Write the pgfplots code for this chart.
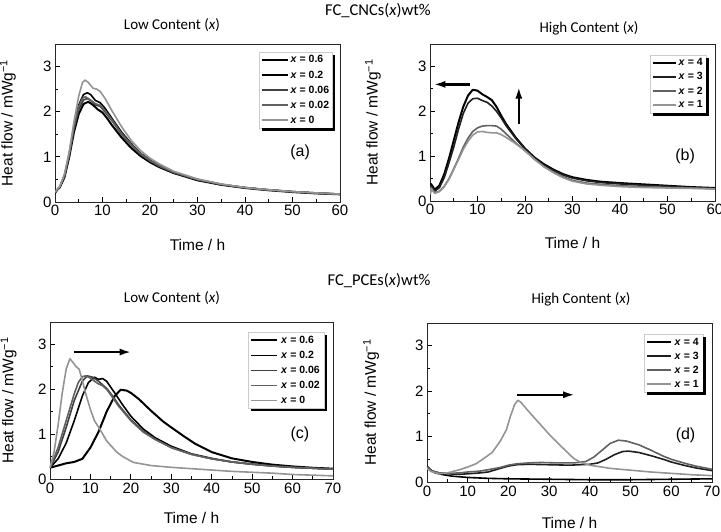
\documentclass[border=0pt]{standalone}
\usepackage{fontspec}
\setmainfont{Liberation Sans}
\newfontfamily\calfont{Carlito}
\usepackage{pgfplots}
\pgfplotsset{compat=1.18}
\usetikzlibrary{arrows.meta}
\definecolor{g0}{gray}{0.0}
\definecolor{g1}{gray}{0.12}
\definecolor{g2}{gray}{0.25}
\definecolor{g3}{gray}{0.38}
\definecolor{g4}{gray}{0.58}
\newcommand\lblfont{\fontsize{15.5}{16}\selectfont}
\newcommand\legshadow[1]{\draw[black, line width=2.4pt] ([xshift=1.2pt,yshift=-3pt]#1.north east) -- ([xshift=1.2pt,yshift=-1.2pt]#1.south east) -- ([xshift=3pt,yshift=-1.2pt]#1.south west);}
\pgfplotsset{
 hf/.style={scale only axis, width=285pt, height=158pt, anchor=south west,
  ymin=0, ymax=3.5, ytick={0,1,2,3}, minor y tick num=1, minor x tick num=1,
  tick align=inside, xtick pos=left, ytick pos=left,
  major tick length=5pt, minor tick length=3pt,
  tick label style={font=\fontsize{15}{15}\selectfont},
  /pgf/number format/assume math mode=true,
  axis line style={line width=0.8pt, black!85},
  every tick/.style={black, line width=0.8pt},
  xlabel={\lblfont Time / h}, ylabel={\lblfont Heat flow / mWg\textsuperscript{−1}},
  every axis y label/.style={at={(axis description cs:-0.165,0.5)}, rotate=90, anchor=center, font=\lblfont},
  every axis x label/.style={at={(axis description cs:0.5,-0.27)}, anchor=center, font=\lblfont},
  legend style={at={(axis description cs:0.975,0.95)}, anchor=north east,
    draw=gray!40, fill=white, line width=0.5pt,
    font=\fontsize{10.5}{11}\selectfont\bfseries, inner sep=1.5pt, row sep=2.2pt},
  legend cell align=left,
  legend image code/.code={\draw[#1] (0pt,0pt) -- (26pt,0pt);},
  no markers, every axis plot/.append style={line width=1.6pt, line join=round},
 }
}
\begin{document}
\begin{tikzpicture}
\useasboundingbox (0,0) rectangle (721pt,532pt);
\node[font=\calfont\fontsize{16.5}{17}\selectfont] at (378pt,521pt) {FC\_CNCs(\textit{x})wt\%};
\node[font=\calfont\fontsize{15}{15}\selectfont] at (172pt,507pt) {Low Content (\textit{x})};
\node[font=\calfont\fontsize{15}{15}\selectfont] at (589pt,504pt) {High Content (\textit{x})};
\node[font=\calfont\fontsize{16.5}{17}\selectfont] at (379pt,251pt) {FC\_PCEs(\textit{x})wt\%};
\node[font=\calfont\fontsize{15}{15}\selectfont] at (172pt,234pt) {Low Content (\textit{x})};
\node[font=\calfont\fontsize{15}{15}\selectfont] at (581pt,233pt) {High Content (\textit{x})};

% (a)
\begin{axis}[hf, at={(55pt,330pt)}, xmin=0, xmax=60, xtick={0,10,...,60},
  legend style={name=legA}]
\addplot[g0, line width=2pt] coordinates {(0,0.2) (0.5,0.27) (1,0.32) (2,0.55) (3,1.0) (4,1.55) (5,1.95) (6,2.17) (7,2.22) (8,2.15) (9,2.05) (10,1.98) (11,1.85) (12,1.7) (14,1.43) (16,1.2) (18,1.02) (20,0.88) (22,0.77) (25,0.64) (30,0.48) (35,0.38) (40,0.31) (45,0.26) (50,0.22) (55,0.19) (60,0.17)};
\addlegendentry{\textit{x} = 0.6}
\addplot[g0] coordinates {(0,0.22) (0.5,0.28) (1,0.33) (2,0.58) (3,1.05) (4,1.7) (5,2.15) (6,2.38) (6.8,2.42) (7.5,2.38) (8.5,2.25) (9.5,2.2) (10.5,2.08) (12,1.85) (14,1.55) (16,1.3) (18,1.08) (20,0.93) (22,0.8) (25,0.66) (30,0.5) (35,0.39) (40,0.32) (45,0.27) (50,0.23) (55,0.2) (60,0.175)};
\addlegendentry{\textit{x} = 0.2}
\addplot[g2] coordinates {(0,0.22) (0.5,0.28) (1,0.33) (2,0.57) (3,1.02) (4,1.62) (5,2.05) (6,2.26) (6.8,2.29) (7.5,2.25) (8.5,2.15) (9.5,2.12) (10.5,2.0) (12,1.8) (14,1.5) (16,1.26) (18,1.06) (20,0.91) (22,0.79) (25,0.65) (30,0.49) (35,0.385) (40,0.315) (45,0.265) (50,0.225) (55,0.195) (60,0.172)};
\addlegendentry{\textit{x} = 0.06}
\addplot[g3] coordinates {(0,0.22) (0.5,0.28) (1,0.34) (2,0.6) (3,1.08) (4,1.68) (5,2.12) (5.8,2.3) (6.4,2.33) (7.2,2.28) (8.5,2.18) (9.5,2.14) (10.5,2.03) (12,1.82) (14,1.52) (16,1.28) (18,1.07) (20,0.92) (22,0.8) (25,0.66) (30,0.5) (35,0.39) (40,0.32) (45,0.27) (50,0.23) (55,0.2) (60,0.175)};
\addlegendentry{\textit{x} = 0.02}
\addplot[g4] coordinates {(0,0.22) (0.5,0.28) (1,0.34) (2,0.62) (3,1.12) (4,1.78) (5,2.35) (5.8,2.65) (6.3,2.7) (7,2.65) (8,2.52) (8.8,2.5) (9.5,2.45) (10.5,2.3) (12,2.02) (14,1.67) (16,1.37) (18,1.14) (20,0.97) (22,0.84) (25,0.68) (30,0.51) (35,0.4) (40,0.32) (45,0.27) (50,0.23) (55,0.2) (60,0.175)};
\addlegendentry{\textit{x} = 0}
\node[font=\fontsize{16}{16}\selectfont] at (axis cs:51.6,1.1) {(a)};
\end{axis}
\legshadow{legA}

% (b)
\begin{axis}[hf, at={(430pt,331pt)}, xmin=0, xmax=60, xtick={0,10,...,60}, height=157pt,
  every axis y label/.style={at={(axis description cs:-0.2,0.5)}, rotate=90, anchor=center, font=\lblfont},
  legend style={name=legB, at={(axis description cs:0.97,0.93)}, row sep=1.2pt},
  legend image code/.code={\draw[#1] (0pt,0pt) -- (23pt,0pt);}]
\addplot[g0, line width=2pt] coordinates {(0,0.15) (0.2,0.38) (0.6,0.32) (1,0.25) (2,0.35) (3,0.6) (4,0.95) (5,1.35) (6,1.75) (7,2.1) (8,2.35) (9,2.48) (10,2.46) (11,2.38) (12,2.32) (13,2.25) (14,2.1) (15,1.9) (16,1.72) (18,1.42) (20,1.17) (22,0.97) (24,0.82) (26,0.7) (28,0.6) (30,0.53) (33,0.47) (36,0.43) (40,0.4) (45,0.37) (50,0.34) (55,0.31) (60,0.29)};
\addlegendentry{\textit{x} = 4}
\addplot[g1] coordinates {(0,0.15) (0.2,0.35) (1,0.22) (2,0.3) (3,0.52) (4,0.85) (5,1.2) (6,1.6) (7,1.95) (8,2.18) (9,2.28) (10,2.29) (11,2.24) (12,2.2) (13,2.12) (14,2.0) (15,1.85) (16,1.68) (18,1.4) (20,1.16) (22,0.96) (24,0.8) (26,0.68) (28,0.58) (30,0.51) (33,0.45) (36,0.41) (40,0.38) (45,0.35) (50,0.33) (55,0.3) (60,0.28)};
\addlegendentry{\textit{x} = 3}
\addplot[g3] coordinates {(0,0.15) (0.2,0.3) (1,0.18) (2,0.22) (3,0.33) (4,0.5) (5,0.72) (6,0.95) (7,1.2) (8,1.4) (9,1.55) (10,1.63) (11,1.67) (12,1.68) (13,1.68) (14,1.67) (15,1.6) (16,1.5) (18,1.3) (20,1.12) (22,0.93) (24,0.77) (26,0.64) (28,0.54) (30,0.46) (33,0.4) (36,0.37) (40,0.34) (45,0.32) (50,0.3) (55,0.29) (60,0.27)};
\addlegendentry{\textit{x} = 2}
\addplot[g4] coordinates {(0,0.15) (0.2,0.28) (1,0.17) (2,0.21) (3,0.32) (4,0.48) (5,0.7) (6,0.92) (7,1.15) (8,1.33) (9,1.47) (10,1.54) (11,1.55) (12,1.53) (13,1.52) (14,1.52) (15,1.48) (16,1.42) (18,1.28) (20,1.12) (22,0.93) (24,0.76) (26,0.63) (28,0.52) (30,0.44) (33,0.38) (36,0.35) (40,0.32) (45,0.3) (50,0.29) (55,0.28) (60,0.27)};
\addlegendentry{\textit{x} = 1}
\draw[-{Latex[length=12pt,width=7pt]}, line width=2.5pt] (axis cs:8.4,2.6) -- (axis cs:0.7,2.6);
\draw[-{Latex[length=12pt,width=7pt]}, line width=2.5pt] (axis cs:18.7,1.71) -- (axis cs:18.7,2.55);
\node[font=\fontsize{16}{16}\selectfont] at (axis cs:53.7,1.0) {(b)};
\end{axis}
\legshadow{legB}

% (c)
\begin{axis}[hf, at={(50pt,53pt)}, xmin=0, xmax=70, xtick={0,10,...,70}, width=283pt, height=157pt,
  every axis y label/.style={at={(axis description cs:-0.146,0.5)}, rotate=90, anchor=center, font=\lblfont},
  every axis x label/.style={at={(axis description cs:0.5,-0.25)}, anchor=center, font=\lblfont},
  legend style={name=legC, at={(axis description cs:0.97,0.935)}, nodes={inner xsep=3pt}},
  legend image code/.code={\draw[#1] (0pt,0pt) -- (26pt,0pt);}]
\addplot[g0, line width=2pt] coordinates {(0,0.25) (2,0.3) (4,0.35) (6,0.38) (8,0.45) (10,0.7) (12,1.05) (14,1.5) (16,1.85) (17.5,1.99) (19,1.97) (20,1.92) (22,1.78) (25,1.52) (28,1.28) (30,1.15) (33,0.96) (36,0.78) (40,0.6) (45,0.46) (50,0.38) (55,0.32) (60,0.28) (65,0.25) (70,0.23)};
\addlegendentry{\textit{x} = 0.6}
\addplot[g0] coordinates {(0,0.25) (2,0.45) (4,0.8) (6,1.3) (8,1.85) (9.5,2.15) (11,2.27) (12,2.22) (13,2.24) (14,2.18) (15,2.05) (16,1.92) (18,1.65) (20,1.4) (23,1.12) (26,0.92) (30,0.73) (35,0.56) (40,0.46) (45,0.38) (50,0.33) (55,0.29) (60,0.26) (65,0.24) (70,0.22)};
\addlegendentry{\textit{x} = 0.2}
\addplot[g2] coordinates {(0,0.25) (2,0.6) (4,1.15) (6,1.75) (8,2.18) (9.2,2.3) (10.5,2.27) (12,2.18) (13,2.1) (14,2.02) (15.5,1.85) (17,1.65) (20,1.32) (23,1.07) (26,0.89) (30,0.7) (35,0.55) (40,0.45) (45,0.38) (50,0.33) (55,0.29) (60,0.26) (65,0.24) (70,0.22)};
\addlegendentry{\textit{x} = 0.06}
\addplot[g3] coordinates {(0,0.25) (2,0.7) (4,1.3) (6,1.9) (7,2.15) (8,2.28) (8.8,2.3) (10,2.25) (11,2.18) (12,2.12) (13,2.08) (14,2.0) (15,1.88) (17,1.62) (20,1.3) (23,1.05) (26,0.88) (30,0.7) (35,0.55) (40,0.45) (45,0.38) (50,0.33) (55,0.29) (60,0.26) (65,0.24) (70,0.22)};
\addlegendentry{\textit{x} = 0.02}
\addplot[g4] coordinates {(0,0.25) (1,0.6) (2,1.2) (3,1.9) (4,2.45) (4.9,2.68) (5.5,2.62) (6.5,2.5) (7.2,2.45) (8,2.2) (9,1.85) (10,1.55) (11,1.3) (12.4,1.1) (14,0.85) (16.5,0.6) (18,0.5) (20.6,0.37) (25,0.3) (30,0.26) (35,0.23) (40,0.2) (45,0.17) (50,0.15) (55,0.13) (60,0.1) (65,0.085) (70,0.07)};
\addlegendentry{\textit{x} = 0}
\draw[-{Latex[length=12pt,width=7pt]}, line width=2.5pt] (axis cs:5.9,2.83) -- (axis cs:20.2,2.83);
\node[font=\fontsize{16}{16}\selectfont] at (axis cs:61.8,1.0) {(c)};
\end{axis}
\legshadow{legC}

% (d)
\begin{axis}[hf, at={(427pt,50pt)}, xmin=0, xmax=70, xtick={0,10,...,70}, height=159pt,
  every axis y label/.style={at={(axis description cs:-0.196,0.5)}, rotate=90, anchor=center, font=\lblfont},
  every axis x label/.style={at={(axis description cs:0.5,-0.26)}, anchor=center, font=\lblfont},
  legend style={name=legD, at={(axis description cs:0.97,0.93)}, row sep=1.2pt, nodes={inner xsep=3pt}},
  legend image code/.code={\draw[#1] (0pt,0pt) -- (24pt,0pt);}]
\addplot[g0] coordinates {(0,0.35) (0.3,0.32) (1,0.26) (2,0.2) (4,0.16) (6,0.13) (10,0.1) (15,0.08) (20,0.07) (30,0.06) (40,0.05) (50,0.05) (60,0.06) (70,0.07)};
\addlegendentry{\textit{x} = 4}
\addplot[g1] coordinates {(0,0.35) (1,0.25) (3,0.2) (5,0.18) (8,0.17) (10,0.18) (13,0.2) (15,0.22) (18,0.3) (20,0.35) (22,0.38) (25,0.39) (30,0.38) (35,0.37) (40,0.39) (42,0.42) (44,0.5) (46,0.6) (48,0.67) (49.5,0.68) (52,0.65) (55,0.58) (58,0.5) (60,0.44) (63,0.37) (66,0.31) (70,0.25)};
\addlegendentry{\textit{x} = 3}
\addplot[g3] coordinates {(0,0.33) (1,0.25) (3,0.2) (5,0.19) (8,0.2) (10,0.22) (13,0.24) (15,0.27) (18,0.32) (20,0.37) (22,0.4) (25,0.42) (28,0.43) (32,0.42) (36,0.42) (39,0.45) (41,0.55) (43,0.7) (45,0.85) (47,0.92) (49,0.9) (52,0.82) (55,0.7) (58,0.57) (60,0.5) (63,0.42) (66,0.35) (70,0.28)};
\addlegendentry{\textit{x} = 2}
\addplot[g4] coordinates {(0,0.3) (1,0.23) (3,0.18) (5,0.2) (8,0.27) (10,0.33) (12,0.4) (14,0.52) (16,0.65) (18,0.9) (19.5,1.15) (20.5,1.45) (21.5,1.7) (22.3,1.8) (23,1.76) (25,1.55) (28,1.25) (30,1.05) (33,0.78) (36,0.52) (38,0.42) (40,0.37) (45,0.3) (50,0.26) (55,0.22) (60,0.19) (65,0.16) (70,0.14)};
\addlegendentry{\textit{x} = 1}
\draw[-{Latex[length=12pt,width=7pt]}, line width=2.5pt] (axis cs:22.1,1.92) -- (axis cs:36.4,1.92);
\node[font=\fontsize{16}{16}\selectfont] at (axis cs:63.5,1.03) {(d)};
\end{axis}
\legshadow{legD}
\end{tikzpicture}
\end{document}
